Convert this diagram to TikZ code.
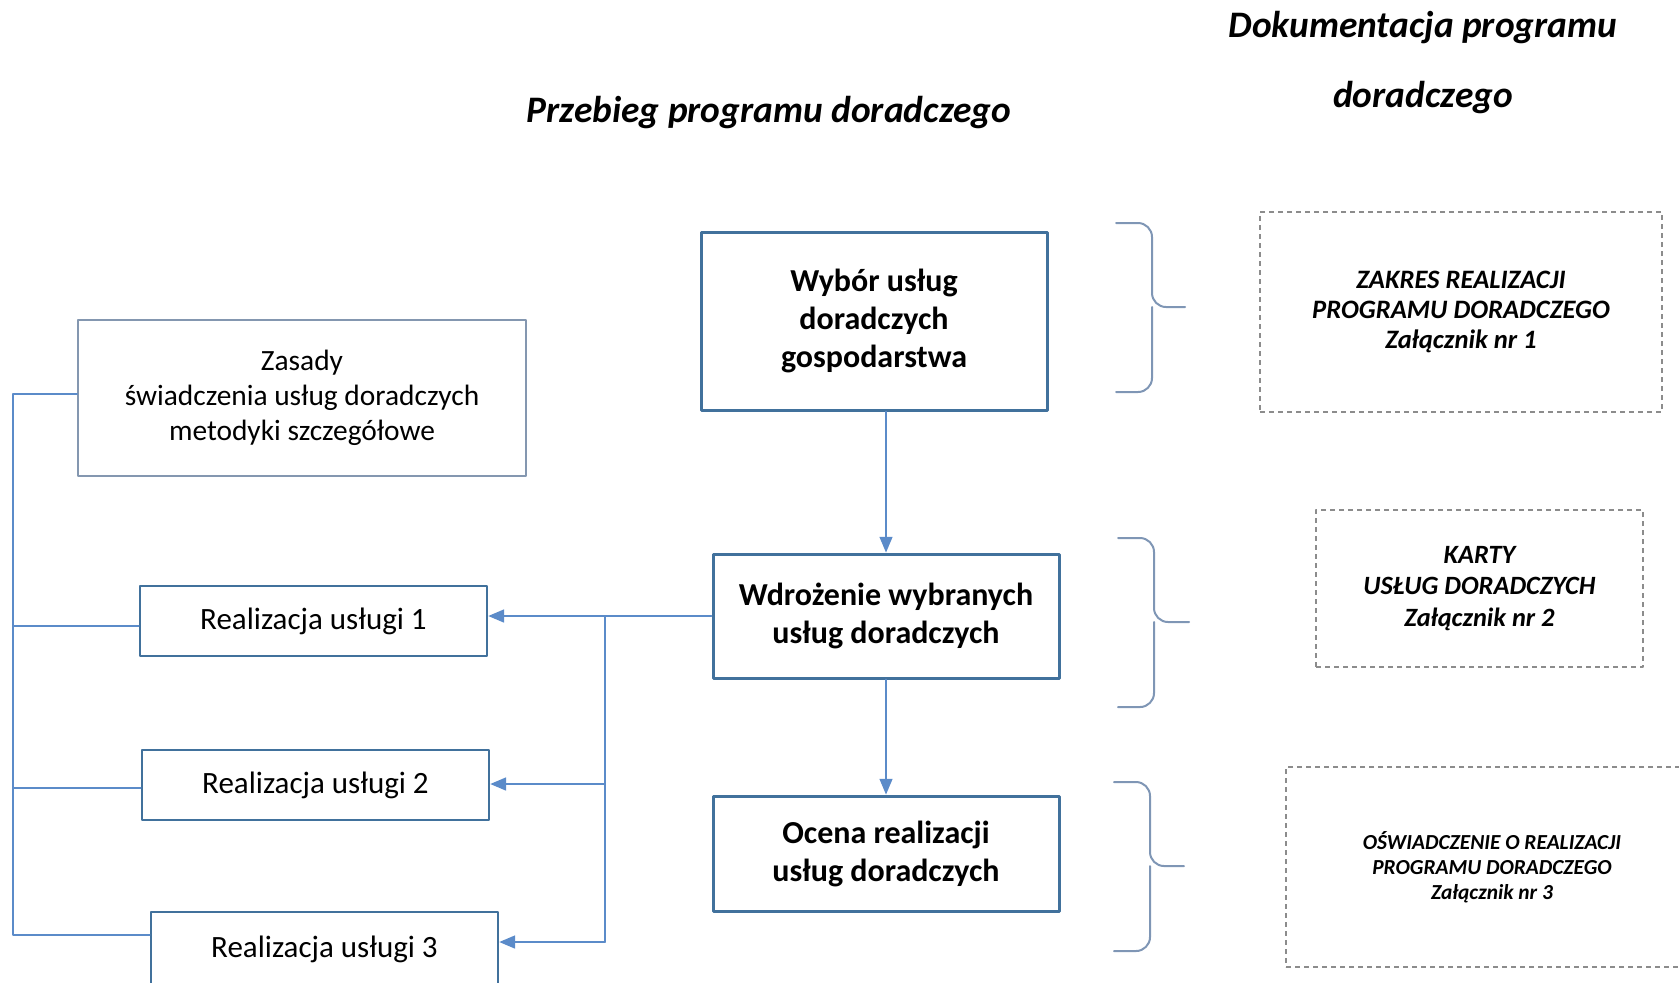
\documentclass[tikz,border=0pt]{standalone}
\usepackage{fontspec}
\setmainfont{Carlito}
\usetikzlibrary{arrows}
\definecolor{boxblue}{HTML}{41719C}
\definecolor{lineblue}{HTML}{5B8BC9}
\definecolor{bracegray}{HTML}{7F96B5}
\definecolor{dashgray}{HTML}{8C8C8C}
\definecolor{zasgray}{HTML}{8497B0}

\begin{document}
\begin{tikzpicture}[line cap=round,line join=round,>=triangle 45,x=0.5pt,y=-0.5pt,
  mainbox/.style={draw=boxblue,line width=1.5pt,inner sep=0pt,align=center,minimum width=173pt,font=\fontsize{16}{19}\selectfont\bfseries},
  servbox/.style={draw=boxblue,line width=1.3pt,inner sep=0pt,align=center,minimum width=173.5pt,minimum height=35pt,font=\fontsize{15.5}{17}\selectfont},
  docbox/.style={draw=dashgray,line width=0.8pt,line cap=butt,dash pattern=on 2.5pt off 2pt,inner sep=0pt,align=center},
  link/.style={draw=lineblue,line width=0.8pt},
  curly/.style={draw=bracegray,line width=1pt,rounded corners=7pt}]
\useasboundingbox (0,0) rectangle (1679,982);
\clip (0,0) rectangle (1679,982);
% titles
\node[font=\fontsize{18.7}{20}\selectfont\bfseries\itshape] (przebieg) at (769,113) {Przebieg programu doradczego};
\node[align=center,font=\fontsize{18.7}{35}\selectfont\bfseries\itshape] (dokum) at (1423,63) {Dokumentacja programu\\doradczego};
% main column
\node[mainbox,minimum height=89pt] (wybor) at (874,321) {Wybór usług\\doradczych\\gospodarstwa};
\node[mainbox,minimum height=62pt] (wdroz) at (886,616) {Wdrożenie wybranych\\usług doradczych};
\node[mainbox,minimum height=57.5pt] (ocena) at (886,853.5) {Ocena realizacji\\usług doradczych};
% left column
\node[draw=zasgray,line width=0.9pt,inner sep=0pt,align=center,minimum width=224pt,minimum height=78pt,font=\fontsize{14.7}{17.4}\selectfont] (zasady) at (302,398) {Zasady\\świadczenia usług doradczych\\metodyki szczegółowe};
\node[servbox] (r1) at (313.5,621) {Realizacja usługi 1};
\node[servbox] (r2) at (315.5,785) {Realizacja usługi 2};
\node[servbox,minimum height=37pt] (r3) at (324.5,949) {Realizacja usługi 3};
% documents
\node[docbox,minimum width=201pt,minimum height=100pt,font=\fontsize{13.3}{15}\selectfont\bfseries\itshape] (doc1) at (1461,312) {ZAKRES REALIZACJI\\PROGRAMU DORADCZEGO\\Załącznik nr 1};
\node[docbox,minimum width=163.5pt,minimum height=78.5pt,font=\fontsize{13.2}{15.8}\selectfont\bfseries\itshape] (doc2) at (1479.5,588.5) {KARTY\\USŁUG DORADCZYCH\\Załącznik nr 2};
\node[docbox,minimum width=206pt,minimum height=100pt,font=\fontsize{10.7}{12.6}\selectfont\bfseries\itshape] (doc3) at (1492,867) {OŚWIADCZENIE O REALIZACJI\\PROGRAMU DORADCZEGO\\Załącznik nr 3};
% braces
\draw[curly] (1116,223) -| (1152,307) -- (1185,307);
\draw[curly] (1116,392) -| (1152,307);
\draw[curly] (1118,538) -| (1154,622) -- (1189,622);
\draw[curly] (1118,707) -| (1154,622);
\draw[curly] (1114,782) -| (1150,866) -- (1184,866);
\draw[curly] (1114,951) -| (1150,866);
% connectors
\draw[link,->] (wybor.south -| wdroz.north) -- (wdroz.north);
\draw[link,->] (wdroz.south) -- (ocena.north);
\coordinate (bus1) at (605,616);
\coordinate (bus2) at (605,784);
\coordinate (bus3) at (605,942);
\draw[link] (wdroz.west) -- (bus1) -- (bus3);
\draw[link,->] (bus1) -- (bus1 -| r1.east);
\draw[link,->] (bus2) -- (bus2 -| r2.east);
\draw[link,->] (bus3) -- (bus3 -| r3.east);
\coordinate (left0) at (13,394);
\coordinate (left1) at (13,626);
\coordinate (left2) at (13,788);
\coordinate (left3) at (13,935);
\draw[link] (zasady.west |- left0) -- (left0) -- (left3) -- (left3 -| r3.west);
\draw[link] (left1) -- (left1 -| r1.west);
\draw[link] (left2) -- (left2 -| r2.west);
\end{tikzpicture}
\end{document}
